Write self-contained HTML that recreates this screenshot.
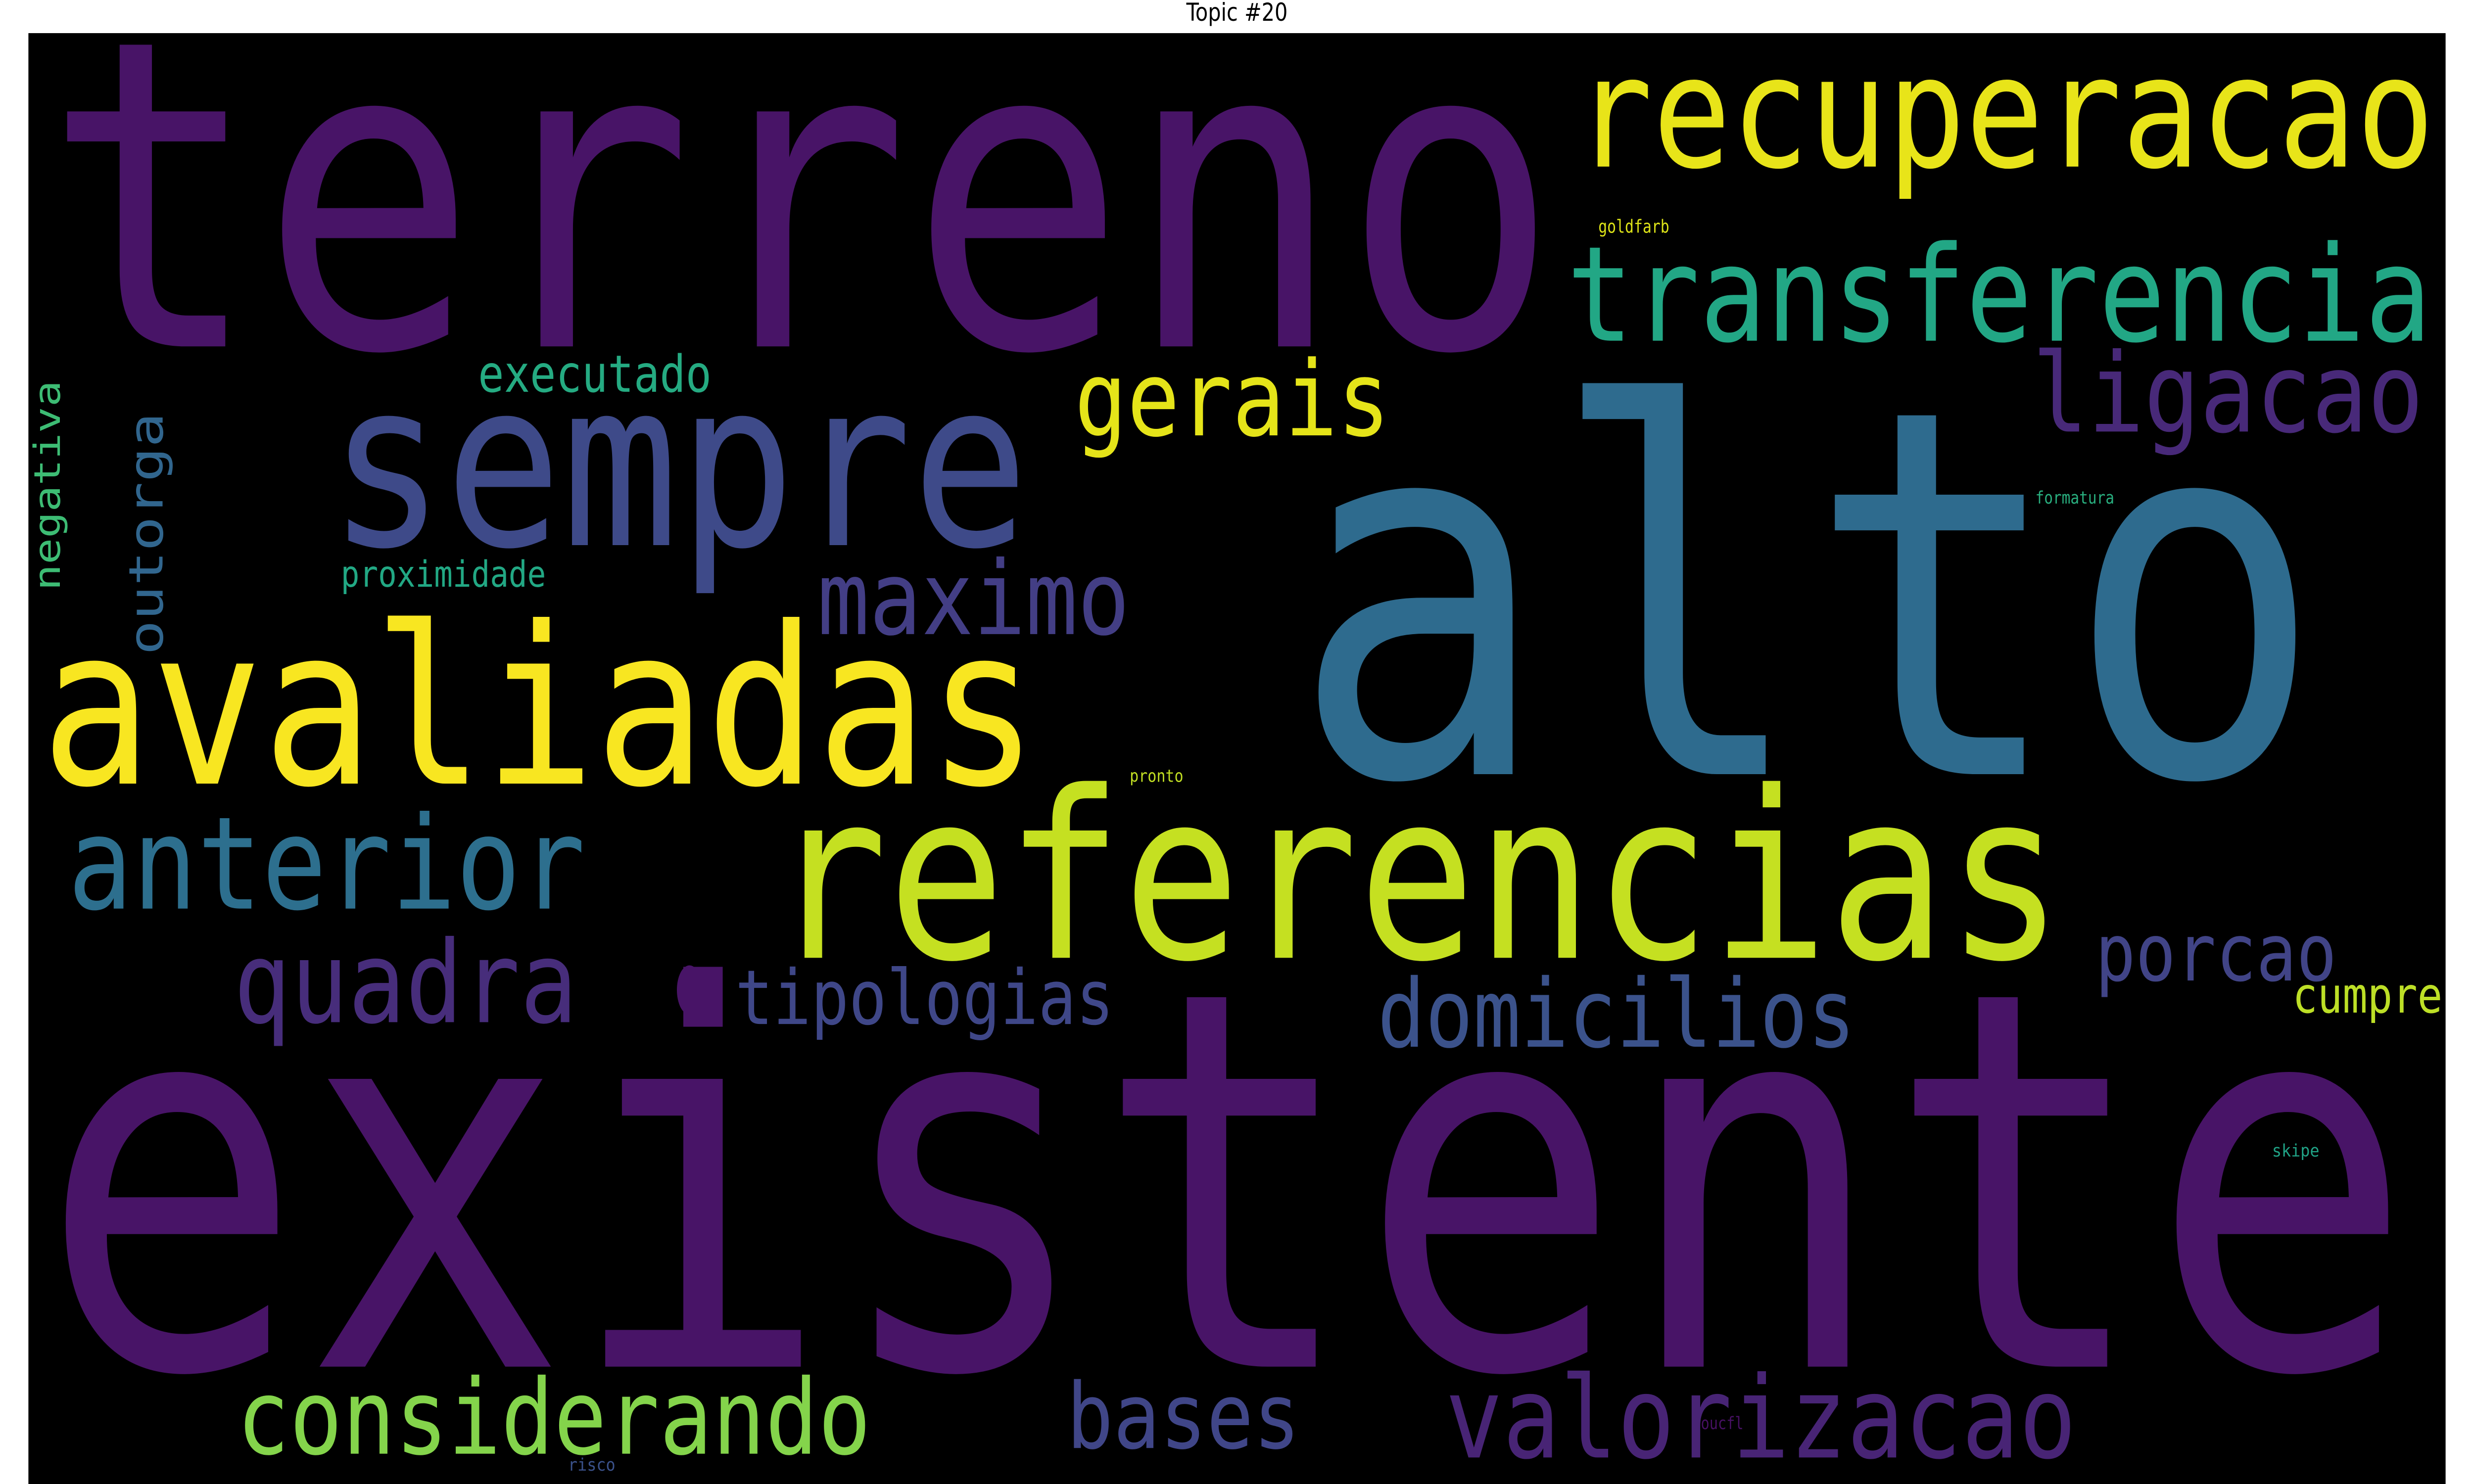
<!DOCTYPE html>
<html><head><meta charset="utf-8"><style>
html,body{margin:0;padding:0;background:#fff;width:100%;height:100%;overflow:hidden;}
svg{display:block;width:100vw;height:100vh;}
text{font-family:"DejaVu Sans Mono","Liberation Mono",monospace;}
</style></head><body>
<svg id="cloud" viewBox="0 0 1568 784" preserveAspectRatio="none" xmlns="http://www.w3.org/2000/svg">
<text x="784" y="11" text-anchor="middle" font-size="13" fill="#000" style="font-family:'DejaVu Sans','Liberation Sans',sans-serif">Topic #20</text>
<rect x="18" y="17.5" width="1532" height="766.5" fill="#000"/>
<g id="words"></g>
</svg>
<script>
// word list, weights (font size) and colours
const words = ["terreno","existente","alto","recuperacao","transferencia","sempre","avaliadas","referencias","ligacao","gerais","maximo","anterior","quadra","tipologias","domicilios","porcao","cumpre","executado","proximidade","considerando","bases","valorizacao","negativa","outorga","goldfarb","formatura","pronto","skipe","oucfl","risco"];
const sizes = [227,278,270,82,70,122,116,123,58,55,54,68,60,40,50,42,26,27,19,55,48,60,23,30,9.5,9,9,9,9,9];
const colors = ["#481467","#481467","#2e6b8e","#e8e419","#22a785","#3e4a89","#f8e621","#c5e021","#482979","#e5e419","#433e85","#2d6f8e","#472d7b","#3f4788","#3b528b","#414487","#bddf26","#25ab82","#22a884","#84d44b","#404688","#482475","#3dbc74","#31668e","#dde318","#29af7f","#c2df23","#20a386","#471063","#3b528b"];
// layout placement (x, baseline y, rendered span, rotation)
const layoutX = [28,25,818,998,993,208,26,488,1288,681,518,43,148,466,873,1328,1453,303,216,150,676,916,38,103,1013,1290,716,1440,1078,360];
const layoutY = [183,722,409,88,180,288,414,506,228,230,335,480,540,541,553,518,535,207,310,768,765,770,312,346,123,266,413,611,755,777];
const spans = [960,1505,655,545,548,444,632,820,248,200,198,328,218,240,303,153,95,148,130,402,148,400,111,128,45,50,34,30,27,30];
const rotated = [0,0,0,0,0,0,0,0,0,0,0,0,0,0,0,0,0,0,0,0,0,0,1,1,0,0,0,0,0,0];
const g = document.getElementById('words');
const NS = "http://www.w3.org/2000/svg";
for (let i = 0; i < words.length; i++) {
  const t = document.createElementNS(NS, 'text');
  
  
  t.setAttribute('font-size', sizes[i]);
  t.setAttribute('fill', colors[i]);
  t.setAttribute('textLength', spans[i]);
  t.setAttribute('lengthAdjust', 'spacingAndGlyphs');
  if (rotated[i]) {
    t.setAttribute('x', 0); t.setAttribute('y', 0);
    t.setAttribute('transform', 'translate(' + layoutX[i] + ',' + layoutY[i] + ') rotate(-90)');
  } else {
    t.setAttribute('x', layoutX[i]); t.setAttribute('y', layoutY[i]);
  }
  t.textContent = words[i];
  g.appendChild(t);
}
const dot = document.createElementNS(NS, 'ellipse');


dot.setAttribute('cx', 437); dot.setAttribute('cy', 523);
dot.setAttribute('rx', 8); dot.setAttribute('ry', 13);
dot.setAttribute('fill', '#481467');
g.appendChild(dot);
</script>
</body></html>
